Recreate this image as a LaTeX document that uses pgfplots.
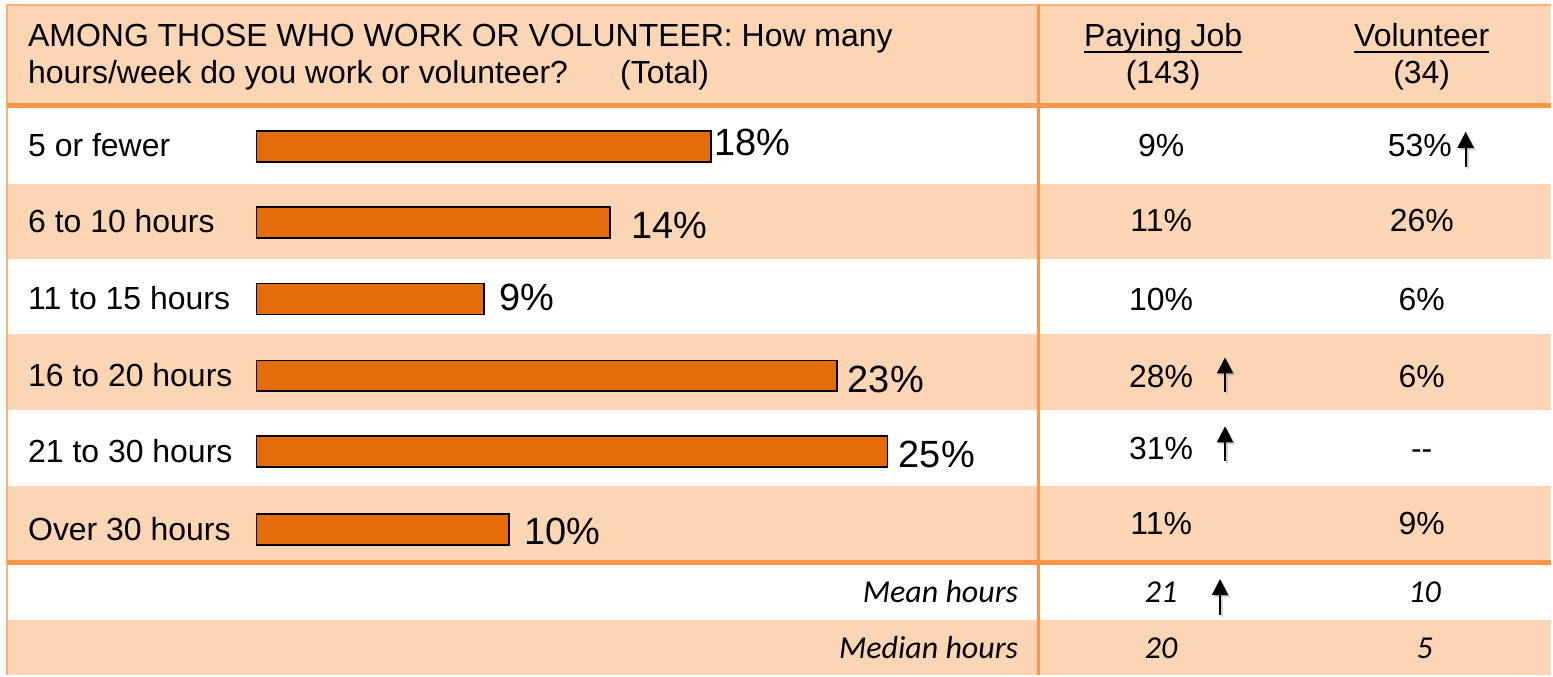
\documentclass[border=0pt]{standalone}
\usepackage{fontspec}
\setmainfont{Liberation Sans}
\newfontfamily\calibri{Carlito}
\usepackage{pgfplots}
\pgfplotsset{compat=1.18}
\usetikzlibrary{arrows.meta}
\definecolor{peach}{HTML}{FCD5B5}
\definecolor{lineor}{HTML}{F79646}
\definecolor{thinor}{HTML}{FAB27C}
\definecolor{barfill}{HTML}{E46C0A}
\newcommand\dd{-\kern0pt-}
\newcommand\txt{\fontsize{32}{38}\selectfont}
\newcommand\barfont{\fontsize{38}{44}\selectfont}
\newcommand\itfont{\calibri\itshape\fontsize{32}{38}\selectfont}
\newsavebox\ulbox
\newcommand\ul[1]{\sbox\ulbox{#1}\rlap{\rule[-6pt]{\wd\ulbox}{2pt}}\usebox\ulbox}
\tikzset{sigarrow/.style={black, line width=2pt, -{Triangle[width=16pt,length=16pt]}},
  sigshadow/.style={black!35, opacity=0.5, line width=2pt, -{Triangle[width=16pt,length=16pt]}, xshift=2pt, yshift=-2pt}}
\begin{document}
\begin{tikzpicture}
\begin{axis}[at={(0pt,0pt)}, anchor=south west, width=1553pt, height=676pt, scale only axis,
  xmin=0, xmax=1553, ymin=0, ymax=676, y dir=reverse,
  axis line style={draw=none}, xtick=\empty, ytick=\empty, clip=false]
% backgrounds
\fill[white] (axis cs:0,0) rectangle (axis cs:1553,676);
\fill[peach] (axis cs:8,6) rectangle (axis cs:1553,103);
\fill[peach] (axis cs:8,184) rectangle (axis cs:1553,259);
\fill[peach] (axis cs:8,335) rectangle (axis cs:1553,411);
\fill[peach] (axis cs:8,487) rectangle (axis cs:1553,563);
\fill[peach] (axis cs:8,621) rectangle (axis cs:1553,676);
% rules
\draw[thinor, line width=2pt] (axis cs:7,5) -- (axis cs:1553,5);
\draw[thinor, line width=2pt] (axis cs:7.5,4) -- (axis cs:7.5,676);
\draw[lineor, line width=5pt] (axis cs:7,105.5) -- (axis cs:1553,105.5);
\draw[lineor, line width=5pt] (axis cs:7,563.5) -- (axis cs:1553,563.5);
\draw[lineor, line width=2.5pt] (axis cs:1040,5) -- (axis cs:1040,676);
% header
\node[anchor=base west, inner sep=0pt, font=\txt] at (axis cs:28,47) {AMONG THOSE WHO WORK OR VOLUNTEER: How many};
\node[anchor=base west, inner sep=0pt, font=\txt] at (axis cs:28,84) {hours/week do you work or volunteer?};
\node[anchor=base west, inner sep=0pt, font=\txt] at (axis cs:621,84) {(Total)};
\node[anchor=base, inner sep=0pt, font=\txt] at (axis cs:1165,47) {\ul{Paying Job}};
\node[anchor=base, inner sep=0pt, font=\txt] at (axis cs:1165,84) {(143)};
\node[anchor=base, inner sep=0pt, font=\txt] at (axis cs:1424,47) {\ul{Volunteer}};
\node[anchor=base, inner sep=0pt, font=\txt] at (axis cs:1424,84) {(34)};
\node[anchor=base east, inner sep=0pt, font=\itfont] at (axis cs:1020,603) {Mean hours};
\node[anchor=base east, inner sep=0pt, font=\itfont] at (axis cs:1020,660) {Median hours};
% table values
\addplot[draw=none, mark=none, nodes near coords, point meta=explicit symbolic,
  nodes near coords style={anchor=base, font=\txt, inner sep=0pt, text=black}]
  table[meta=t] {
x y t
1163 157 9\%
1163 232 11\%
1163 311 10\%
1163 388 28\%
1163 460 31\%
1163 535 11\%
1422 157 53\%
1424 232 26\%
1424 311 6\%
1424 388 6\%
1424 460 \dd
1424 535 9\%
};
\addplot[draw=none, mark=none, nodes near coords, point meta=explicit symbolic,
  nodes near coords style={anchor=base, font=\itfont, inner sep=0pt, text=black}]
  table[meta=t] {
x y t
1163 603 21
1163 660 20
1427 603 10
1427 660 5
};
% significance arrows
\draw[sigshadow] (axis cs:1468,167) -- (axis cs:1468,132);
\draw[sigarrow] (axis cs:1468,167) -- (axis cs:1468,132);
\draw[sigshadow] (axis cs:1227,393) -- (axis cs:1227,358);
\draw[sigarrow] (axis cs:1227,393) -- (axis cs:1227,358);
\draw[sigshadow] (axis cs:1227,462) -- (axis cs:1227,427);
\draw[sigarrow] (axis cs:1227,462) -- (axis cs:1227,427);
\draw[sigshadow] (axis cs:1222,616) -- (axis cs:1222,580);
\draw[sigarrow] (axis cs:1222,616) -- (axis cs:1222,580);
\end{axis}
\begin{axis}[at={(257pt,0pt)}, anchor=south west, width=1296pt, height=676pt, scale only axis,
  xmin=0, xmax=51.266, ymin=0, ymax=676, y dir=reverse,
  axis line style={draw=none}, xtick=\empty,
  ytick={146.5,222.5,299.5,376.5,452.5,530.5},
  yticklabels={5 or fewer,6 to 10 hours,11 to 15 hours,16 to 20 hours,21 to 30 hours,Over 30 hours},
  major tick length=0pt,
  yticklabel style={anchor=base west, xshift=-229pt, yshift=-10.5pt, font=\txt, inner sep=0pt},
  clip=false]
\addplot[xbar, bar width=31, fill=barfill, draw=black, line width=1.8pt]
  coordinates {(18,146.5) (14,222.5) (9,299.5) (23,376.5) (25,452.5) (10,530.5)};
\addplot[draw=none, mark=none, nodes near coords, point meta=explicit symbolic,
  nodes near coords style={anchor=base west, font=\barfont, inner sep=0pt, text=black}]
  table[meta=t] {
x y t
18.12 156 18\%
14.83 239 14\%
9.61 311 9\%
23.42 393 23\%
25.44 468 25\%
10.60 545 10\%
};
\end{axis}
\end{tikzpicture}
\end{document}
